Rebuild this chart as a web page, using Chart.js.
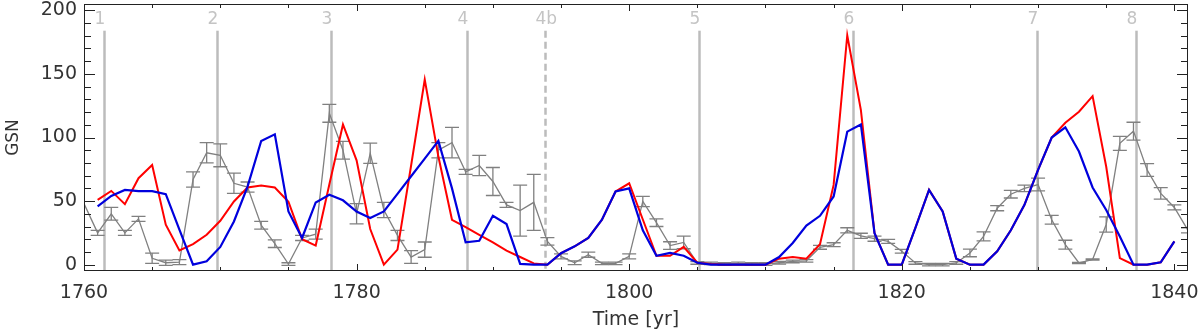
<!DOCTYPE html>
<html>
<head>
<meta charset="utf-8">
<script src="https://cdn.jsdelivr.net/npm/chart.js@4.4.1/dist/chart.umd.min.js"></script>
<style>
  html, body { margin: 0; padding: 0; background: #fff; }
  #wrap { width: 1200px; height: 335px; }
</style>
</head>
<body>
<div id="wrap"><canvas id="gsnChart"></canvas></div>
<script>
// yearly samples, 1760 .. 1841
const years = [
  1760, 1761, 1762, 1763, 1764, 1765, 1766, 1767, 1768, 1769,
  1770, 1771, 1772, 1773, 1774, 1775, 1776, 1777, 1778, 1779,
  1780, 1781, 1782, 1783, 1784, 1785, 1786, 1787, 1788, 1789,
  1790, 1791, 1792, 1793, 1794, 1795, 1796, 1797, 1798, 1799,
  1800, 1801, 1802, 1803, 1804, 1805, 1806, 1807, 1808, 1809,
  1810, 1811, 1812, 1813, 1814, 1815, 1816, 1817, 1818, 1819,
  1820, 1821, 1822, 1823, 1824, 1825, 1826, 1827, 1828, 1829,
  1830, 1831, 1832, 1833, 1834, 1835, 1836, 1837, 1838, 1839,
  1840, 1841
];

// group sunspot number (gray, with error bars)
const gsn = [
  48, 25, 40, 25, 36, 5, 1.5, 2, 67, 88,
  86, 64, 61, 31, 16.5, 0.5, 21, 24, 119, 90,
  40, 87.6, 43, 23, 6, 11.8, 90, 96, 73, 78,
  65.4, 47, 42.5, 49, 18.3, 6.5, 1.5, 7.8, 1, 1,
  6.5, 49.7, 33, 15, 17.5, 1.3, 1, 0.5, 1, 0.5,
  0.5, 1.5, 2.5, 3, 13.6, 15.7, 27, 22.7, 20.4, 18.3,
  10.5, 1.3, 0, 0, 1.3, 9.2, 22.2, 44.4, 55.4, 60,
  63, 35.3, 15.7, 1.3, 4, 31.6, 95.4, 105, 74.5, 56,
  45, 27
];
const gsnErr = [
  0, 2, 5, 2, 2, 4, 2, 2, 6, 8,
  9, 8, 4, 3, 3, 1, 2, 4, 7, 7,
  8, 8, 6, 4, 5, 6, 6, 12, 2, 8,
  11, 2, 20, 22, 3, 2, 1.5, 2, 1, 1,
  2, 4, 3, 3, 5, 1, 1, 1, 1, 1,
  1, 1, 1, 1, 1.5, 1.5, 2, 2, 2, 1.5,
  1.5, 1, 1, 1, 1, 3, 3.5, 2, 3, 2.5,
  5, 3.5, 3.5, 0.5, 0.5, 6, 5.5, 7, 5, 4.5,
  2, 2
];

// reconstructions (null where not drawn)
const redSeries = [
  null, 51, 58, 47.6, 68, 78.4, 31.4, 11.2, 16.2, 23.5,
  34.5, 49.7, 60.7, 62.2, 60.7, 49.5, 20, 15, 63, 110.3,
  82, 28, 0, 11.8, 78, 145.6, 85, 35.3, 29.5, 23.5,
  17.5, 11, 6, 1, 0, 9, 14.4, 21, 35.3, 57.5,
  64, 35.5, 7, 7, 14, 1.5, 0.5, 0, 0, 0,
  0, 4.7, 6, 4.7, 16, 62.7, 180.4, 121.6, 24.8, 0,
  0, 29, 58.8, 41.8, 4.7, 0, 0, 10.5, 27, 47,
  74.5, 100, 111.6, 120.3, 132.5, 77, 5.2, 0, 0, 1.8,
  18.3, null
];
const blueSeries = [
  null, 45.8, 54, 58.8, 57.8, 57.8, 55.4, 27.5, 0, 2.6,
  13.9, 34, 61.4, 97.3, 102.5, 41.8, 21, 48.9, 55, 50.6,
  41.8, 36.6, 41.8, 55.7, 69.5, 83.4, 97.3, 60, 17.6, 18.8,
  38.4, 31.9, 0.6, 0, 0, 9, 14.4, 21, 35.3, 57.5,
  60, 27, 7, 9.2, 7, 1.5, 0, 0, 0, 0,
  0, 6, 17, 30.8, 38.4, 53.6, 104.6, 110.3, 24.8, 0,
  0, 29, 58.8, 41.8, 4.7, 0, 0, 10.5, 27, 47,
  74.5, 100, 108, 89, 60.7, 43, 22.2, 0, 0, 1.8,
  18.3, null
];

// solar cycle maxima markers
const cycleYears  = [1761.5, 1769.75, 1778.1, 1788.1, 1793.8, 1805.1, 1816.4, 1829.9, 1837.2];
const cycleLabels = ['1', '2', '3', '4', '4b', '5', '6', '7', '8'];
const cycleDashed = [false, false, false, false, true, false, false, false, false];
const cycleLineTop = 184;
const cycleLabelY = 189;

// axis ticks
const xTickLabels = [1760, 1780, 1800, 1820, 1840];
const xMinorTicks = [1765, 1770, 1775, 1785, 1790, 1795, 1805, 1810, 1815, 1825, 1830, 1835];
const yTickLabels = [0, 50, 100, 150, 200];
const yMinorTicks = [10, 20, 30, 40, 60, 70, 80, 90, 110, 120, 130, 140, 160, 170, 180, 190];

const toPoints = arr => years.map((yr, i) => ({ x: yr, y: arr[i] }));

const axisColor = '#222';
const fontFamily = "'DejaVu Sans', sans-serif";

const framePlugin = {
    id: 'framePlugin',
    beforeDatasetsDraw(chart) {
        const { ctx, chartArea: a, scales: { x, y } } = chart;
        ctx.save();
        ctx.beginPath();
        ctx.rect(a.left, a.top, a.right - a.left, a.bottom - a.top);
        ctx.clip();
        cycleYears.forEach((yr, i) => {
            const px = Math.round(x.getPixelForValue(yr)) + 0.5;
            ctx.strokeStyle = '#bcbcbc';
            ctx.lineWidth = 2.5;
            ctx.setLineDash(cycleDashed[i] ? [7, 4] : []);
            ctx.beginPath();
            ctx.moveTo(px, y.getPixelForValue(cycleLineTop));
            ctx.lineTo(px, a.bottom);
            ctx.stroke();
            ctx.setLineDash([]);
            ctx.fillStyle = '#c4c4c4';
            ctx.font = '17px ' + fontFamily;
            ctx.textAlign = 'left';
            ctx.textBaseline = 'alphabetic';
            ctx.fillText(cycleLabels[i], px - 10, y.getPixelForValue(cycleLabelY));
        });
        ctx.restore();
    },
    afterDatasetDraw(chart, args) {
        if (args.index !== 2) return; // error bars on the GSN series only
        const { ctx, chartArea: a, scales: { x, y } } = chart;
        ctx.save();
        ctx.beginPath();
        ctx.rect(a.left, a.top, a.right - a.left, a.bottom - a.top);
        ctx.clip();
        ctx.strokeStyle = '#808080';
        ctx.lineWidth = 1.3;
        years.forEach((yr, i) => {
            if (!gsnErr[i]) return;
            const px = x.getPixelForValue(yr);
            const lo = y.getPixelForValue(gsn[i] - gsnErr[i]);
            const hi = y.getPixelForValue(gsn[i] + gsnErr[i]);
            ctx.beginPath();
            ctx.moveTo(px, lo); ctx.lineTo(px, hi);
            ctx.moveTo(px - 7, lo); ctx.lineTo(px + 7, lo);
            ctx.moveTo(px - 7, hi); ctx.lineTo(px + 7, hi);
            ctx.stroke();
        });
        ctx.restore();
    },
    afterDraw(chart) {
        const { ctx, chartArea: a, scales: { x, y } } = chart;
        ctx.save();
        ctx.strokeStyle = axisColor;
        ctx.lineWidth = 1;
        ctx.strokeRect(a.left + 0.5, a.top + 0.5, a.right - a.left - 1, a.bottom - a.top - 1);
        ctx.beginPath();
        // x ticks, inward on bottom and top
        const xTick = (v, len) => {
            const px = Math.round(x.getPixelForValue(v)) + 0.5;
            ctx.moveTo(px, a.bottom); ctx.lineTo(px, a.bottom - len);
            ctx.moveTo(px, a.top); ctx.lineTo(px, a.top + len);
        };
        xTickLabels.forEach(v => xTick(v, 7));
        xMinorTicks.forEach(v => xTick(v, 4));
        // y ticks, inward on left and right
        const yTick = (v, len) => {
            const py = Math.round(y.getPixelForValue(v)) + 0.5;
            ctx.moveTo(a.left, py); ctx.lineTo(a.left + len, py);
            ctx.moveTo(a.right, py); ctx.lineTo(a.right - len, py);
        };
        yTickLabels.forEach(v => yTick(v, 11));
        yMinorTicks.forEach(v => yTick(v, 7));
        ctx.stroke();
        ctx.restore();
    }
};

new Chart(document.getElementById('gsnChart'), {
    type: 'line',
    data: {
        datasets: [
            {
                label: 'Blue',
                data: toPoints(blueSeries),
                borderColor: '#0000dd',
                borderWidth: 2.2,
                pointRadius: 0,
                tension: 0,
                order: 1
            },
            {
                label: 'Red',
                data: toPoints(redSeries),
                borderColor: '#ff0000',
                borderWidth: 2,
                pointRadius: 0,
                tension: 0,
                order: 2
            },
            {
                label: 'GSN',
                data: toPoints(gsn),
                borderColor: '#808080',
                borderWidth: 1.3,
                pointRadius: 0,
                tension: 0,
                order: 3
            }
        ]
    },
    options: {
        responsive: true,
        maintainAspectRatio: false,
        animation: false,
        layout: { padding: { top: 4, right: 12, left: 0, bottom: 0 } },
        plugins: {
            legend: { display: false },
            tooltip: { enabled: false }
        },
        scales: {
            x: {
                type: 'linear',
                min: 1760,
                max: 1841,
                afterBuildTicks: s => { s.ticks = xTickLabels.map(v => ({ value: v })); },
                afterFit: s => { s.height = 64; s.paddingLeft = 0; s.paddingRight = 0; },
                grid: { display: false, drawTicks: false },
                border: { display: false },
                ticks: {
                    color: '#333',
                    font: { family: fontFamily, size: 19 },
                    padding: 11,
                    maxRotation: 0,
                    autoSkip: false,
                    callback: v => String(v)
                },
                title: {
                    display: true,
                    text: 'Time [yr]',
                    color: '#333',
                    font: { family: fontFamily, size: 19 },
                    padding: { top: 0, bottom: 4 }
                }
            },
            y: {
                min: -5,
                max: 205,
                afterBuildTicks: s => { s.ticks = yTickLabels.map(v => ({ value: v })); },
                afterFit: s => { s.width = 84; s.paddingTop = 0; s.paddingBottom = 0; },
                grid: { display: false, drawTicks: false },
                border: { display: false },
                ticks: {
                    color: '#333',
                    font: { family: fontFamily, size: 19 },
                    padding: 7,
                    callback: v => String(v)
                },
                title: {
                    display: true,
                    text: 'GSN',
                    color: '#333',
                    font: { family: fontFamily, size: 17 },
                    padding: { top: 3, bottom: 0 }
                }
            }
        }
    },
    plugins: [framePlugin]
});
</script>
</body>
</html>
